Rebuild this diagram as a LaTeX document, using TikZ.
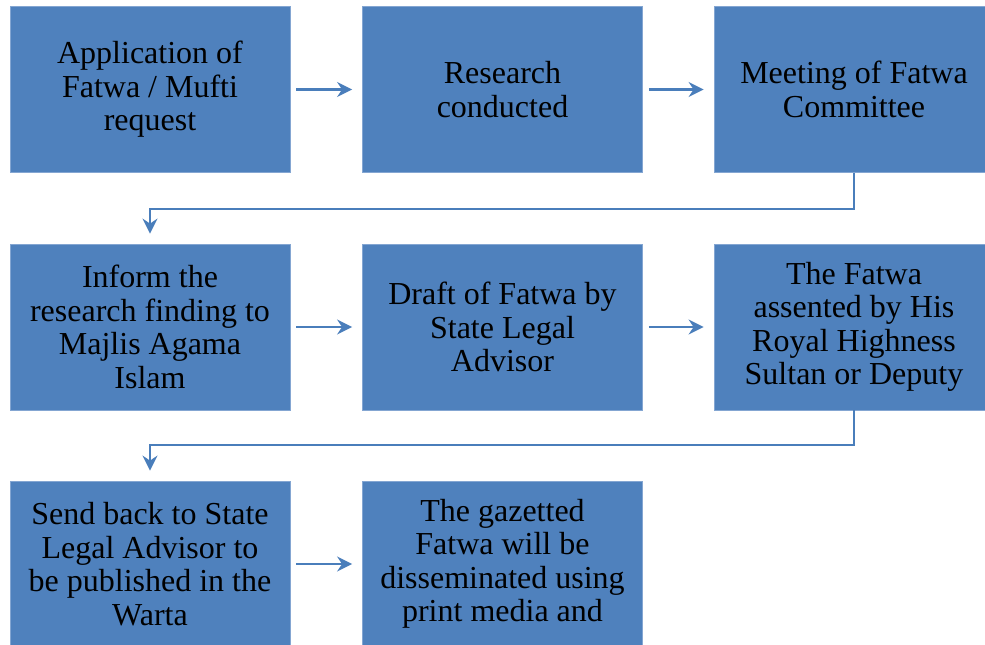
\documentclass[tikz,border=0pt]{standalone}
\usepackage{fontspec}
\setmainfont{Liberation Serif}
\usetikzlibrary{arrows.meta}
\definecolor{boxfill}{HTML}{4F81BD}
\definecolor{boxedge}{HTML}{84A6D2}
\definecolor{linkcol}{HTML}{4A7EBB}
\begin{document}
\begin{tikzpicture}[x=1pt,y=-1pt,
  stepbox/.style={rectangle, fill=boxfill, draw=boxedge, line width=0.8pt,
    minimum width=280pt, minimum height=166pt, inner sep=0pt, align=center,
    font=\fontsize{32}{33.5}\selectfont, text=black},
  flow/.style={draw=linkcol, line width=2.2pt,
    -{Stealth[length=15pt,width=15pt,inset=5pt]}},
  elbow/.style={draw=linkcol, line width=2pt,
    -{Stealth[length=15pt,width=15pt,inset=5pt]}}]
\useasboundingbox (0,0) rectangle (985,645);
\clip (0,0) rectangle (985,645);
\fill[white] (0,0) rectangle (985,645);
% row 1
\node[stepbox] (a) at (150,89.5) {Application of\\Fatwa / Mufti\\request};
\node[stepbox] (b) at (502.5,89.5) {Research\\conducted};
\node[stepbox] (c) at (854,89.5) {Meeting of Fatwa\\Committee};
% row 2
\node[stepbox] (d) at (150,327) {Inform the\\research finding to\\Majlis Agama\\Islam};
\node[stepbox] (e) at (502.5,327) {Draft of Fatwa by\\State Legal\\Advisor};
\node[stepbox] (f) at (854,327) {The Fatwa\\assented by His\\Royal Highness\\Sultan or Deputy};
% row 3
\node[stepbox] (g) at (150,564) {Send back to State\\Legal Advisor to\\be published in the\\Warta};
\node[stepbox] (h) at (502.5,564) {The gazetted\\Fatwa will be\\disseminated using\\print media and};
% connectors
\draw[flow] ([xshift=6pt]a.east) -- ([xshift=-10pt]b.west);
\draw[flow] ([xshift=6pt]b.east) -- ([xshift=-10pt]c.west);
\draw[flow] ([xshift=6pt]d.east) -- ([xshift=-10pt]e.west);
\draw[flow] ([xshift=6pt]e.east) -- ([xshift=-10pt]f.west);
\draw[flow] ([xshift=6pt]g.east) -- ([xshift=-10pt]h.west);
\draw[elbow] (c.south) -- ++(0,36) -| ([yshift=10pt]d.north);
\draw[elbow] (f.south) -- ++(0,35) -| ([yshift=10pt]g.north);
\end{tikzpicture}
\end{document}
